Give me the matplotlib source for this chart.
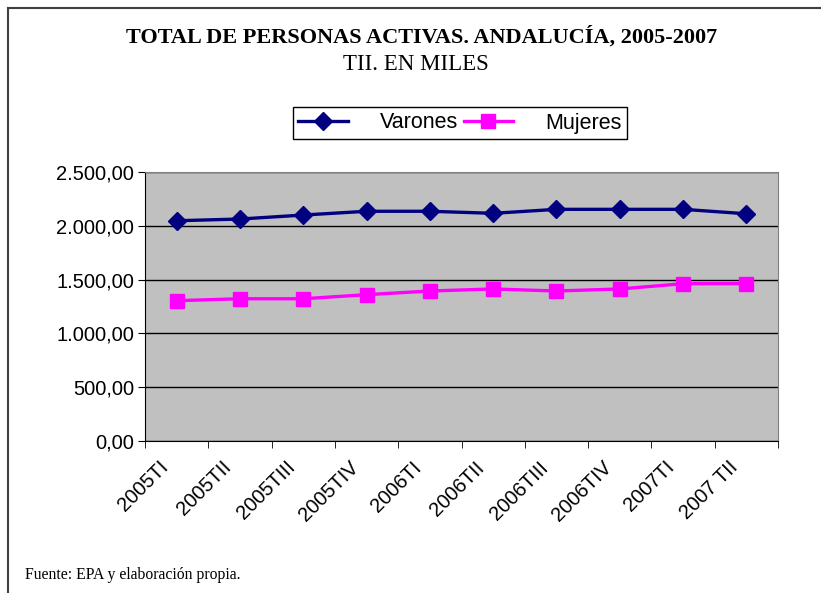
import numpy as np
import matplotlib.pyplot as plt
import matplotlib.transforms as mtransforms
from matplotlib.ticker import FuncFormatter, FixedLocator

# Data (miles de personas)
periodos = ["2005TI", "2005TII", "2005TIII", "2005TIV", "2006TI",
            "2006TII", "2006TIII", "2006TIV", "2007TI", "2007 TII"]
varones = [2047, 2063, 2100, 2135, 2135, 2116, 2153, 2153, 2153, 2112]
mujeres = [1304, 1322, 1322, 1360, 1394, 1413, 1394, 1413, 1462, 1462]

fig = plt.figure(figsize=(8.21, 5.93), dpi=100)
ax = fig.add_axes([145 / 821, 1 - 441 / 593, 633 / 821, 269 / 593])

x = np.arange(len(periodos))
ax.plot(x, varones, color="#000080", lw=2.4, marker="D", markersize=9,
        label="Varones")
ax.plot(x, mujeres, color="#FF00FF", lw=2.4, marker="s", markersize=10,
        label="Mujeres")

ax.set_facecolor("#C0C0C0")
ax.set_xlim(-0.5, len(periodos) - 0.5)
ax.set_ylim(0, 2500)
ax.set_yticks(np.arange(0, 2501, 500))
ax.yaxis.grid(True, color="black", lw=1)
ax.set_axisbelow(True)

def fmt_es(v, pos):
    s = f"{v:,.2f}"
    return s.replace(",", "X").replace(".", ",").replace("X", ".")

ax.yaxis.set_major_formatter(FuncFormatter(fmt_es))

ax.set_xticks(x)
ax.set_xticklabels(periodos, rotation=45, ha="right", rotation_mode="anchor")
ax.xaxis.set_minor_locator(FixedLocator(np.arange(-0.5, len(periodos), 1)))
ax.tick_params(axis="x", which="major", length=0, pad=12)
ax.tick_params(axis="x", which="minor", length=5, color="black")
ax.tick_params(axis="y", length=5, color="black", pad=3)

# shift the rotated labels left so they end before the category centre
shift = mtransforms.ScaledTranslation(-18 / 100, 0, fig.dpi_scale_trans)
for lab in ax.get_xticklabels():
    lab.set_transform(lab.get_transform() + shift)

for lab in ax.get_xticklabels() + ax.get_yticklabels():
    lab.set_fontfamily("Liberation Sans")
    lab.set_fontsize(14.5)

for side in ["top", "right"]:
    ax.spines[side].set_color("#808080")
for side in ["left", "bottom"]:
    ax.spines[side].set_color("black")

# Titles
fig.text(0.513, 1 - 37 / 593, "TOTAL DE PERSONAS ACTIVAS. ANDALUCÍA, 2005-2007",
         ha="center", va="center", family="Liberation Serif", weight="bold",
         fontsize=16)
fig.text(0.507, 1 - 65 / 593, "TII. EN MILES", ha="center", va="center",
         family="Liberation Serif", fontsize=16.5)

leg = ax.legend(loc="center", bbox_to_anchor=(460 / 821, 1 - 123 / 593),
                bbox_transform=fig.transFigure, ncol=2, frameon=True,
                fancybox=False, edgecolor="black", framealpha=1,
                prop={"family": "Liberation Sans", "size": 15.5},
                handlelength=2.3, columnspacing=0.25, handletextpad=1.5,
                borderpad=0.25, borderaxespad=0)
leg.get_frame().set_linewidth(1)

fig.text(25 / 821, 1 - 575 / 593, "Fuente: EPA y elaboración propia.",
         ha="left", va="center", family="Liberation Serif", fontsize=11.3)

# outer frame (only top and left visible in the original)
fig.add_artist(plt.Line2D([8 / 821, 1], [1 - 8 / 593, 1 - 8 / 593],
                          transform=fig.transFigure, color="#404040", lw=1.5))
fig.add_artist(plt.Line2D([8 / 821, 8 / 821], [0, 1 - 8 / 593],
                          transform=fig.transFigure, color="#404040", lw=1.5))

fig.savefig("out.png", dpi=100)
plt.close(fig)
